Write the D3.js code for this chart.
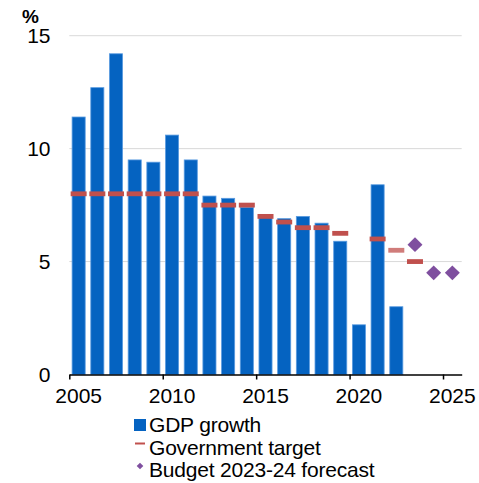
<!DOCTYPE html>
<html>
<head>
<meta charset="utf-8">
<script src="https://cdn.jsdelivr.net/npm/d3@7"></script>
<style>
  html, body { margin: 0; padding: 0; background: #fff; }
  svg { display: block; font-family: "Liberation Sans", Arial, sans-serif; }
</style>
</head>
<body>
<svg id="chart" width="479" height="483"></svg>
<script>
// China real GDP growth, official growth targets and budget forecasts (%)
const years = d3.range(2005, 2026);
const gdpYears = [2005, 2006, 2007, 2008, 2009, 2010, 2011, 2012, 2013, 2014, 2015, 2016, 2017, 2018, 2019, 2020, 2021, 2022];
const gdpGrowth = [11.4, 12.7, 14.2, 9.5, 9.4, 10.6, 9.5, 7.9, 7.8, 7.4, 7.0, 6.9, 7.0, 6.7, 5.9, 2.2, 8.4, 3.0];
const targetYears = [2005, 2006, 2007, 2008, 2009, 2010, 2011, 2012, 2013, 2014, 2015, 2016, 2017, 2018, 2019, 2021, 2022, 2023];
const targetValues = [8, 8, 8, 8, 8, 8, 8, 7.5, 7.5, 7.5, 7.0, 6.75, 6.5, 6.5, 6.25, 6.0, 5.5, 5.0];
const forecastYears = [2023, 2024, 2025];
const forecastValues = [5.75, 4.5, 4.5];
const yTicks = [0, 5, 10, 15];
const xTickYears = [2005, 2010, 2015, 2020, 2025];
const legendLabels = ["GDP growth", "Government target", "Budget 2023-24 forecast"];

const colors = { bar: "#0563C1", barEdge: "#5a9be0", target: "#C0504D", forecast: "#7F4F9F", grid: "#d9d9d9" };

const svg = d3.select("#chart");
const plot = { left: 69.3, right: 461.7, top: 35.7, bottom: 374.5 };

const x = d3.scaleBand().domain(years).range([plot.left, plot.right]).paddingInner(0.3).paddingOuter(0.15);
const xEdge = d3.scaleLinear().domain([2005, 2026]).range([plot.left, plot.right]);
const y = d3.scaleLinear().domain([0, 15]).range([plot.bottom, plot.top]);
const center = yr => x(yr) + x.bandwidth() / 2;

// horizontal gridlines
svg.append("g")
  .selectAll("line")
  .data(yTicks.filter(t => t > 0))
  .join("line")
  .attr("x1", plot.left).attr("x2", plot.right)
  .attr("y1", d => y(d)).attr("y2", d => y(d))
  .attr("stroke", colors.grid).attr("stroke-width", 1);

// y axis labels
svg.append("g")
  .selectAll("text")
  .data(yTicks)
  .join("text")
  .attr("x", 50.5).attr("y", d => y(d))
  .attr("dy", "0.36em")
  .attr("text-anchor", "end")
  .attr("font-size", 21)
  .attr("fill", "#000")
  .text(d => d);

svg.append("text")
  .attr("x", 22).attr("y", 23)
  .attr("font-size", 19).attr("font-weight", "bold")
  .text("%");

// GDP growth bars
svg.append("g")
  .selectAll("rect")
  .data(gdpYears.map((yr, i) => ({ yr, v: gdpGrowth[i] })))
  .join("rect")
  .attr("x", d => x(d.yr))
  .attr("width", x.bandwidth())
  .attr("y", d => y(d.v))
  .attr("height", d => y(0) - y(d.v))
  .attr("fill", colors.bar)
  .attr("stroke", colors.barEdge)
  .attr("stroke-width", 0.8);

// x axis line with ticks on the year boundaries
const xAxis = d3.axisBottom(xEdge)
  .tickValues(xTickYears)
  .tickSize(5)
  .tickSizeOuter(0)
  .tickFormat("");
const gx = svg.append("g")
  .attr("transform", `translate(0,${plot.bottom})`)
  .call(xAxis);
gx.select(".domain").attr("stroke", "#000").attr("stroke-width", 1.5);
gx.selectAll(".tick line").attr("stroke", "#000").attr("stroke-width", 1.5);

// year labels centred on the categories
const xLabels = d3.axisBottom(x).tickValues(xTickYears).tickSize(0).tickPadding(0);
const gl = svg.append("g")
  .attr("transform", `translate(0,${plot.bottom + 14})`)
  .call(xLabels);
gl.select(".domain").remove();
gl.selectAll("text")
  .attr("font-size", 21)
  .attr("font-family", "'Liberation Sans', Arial, sans-serif")
  .attr("fill", "#000");

// government target dashes
const dashW = 16, dashH = 4.8;
svg.append("g")
  .selectAll("rect")
  .data(targetYears.map((yr, i) => ({ yr, v: targetValues[i] })))
  .join("rect")
  .attr("x", d => center(d.yr) - dashW / 2)
  .attr("y", d => y(d.v) - dashH / 2)
  .attr("width", dashW)
  .attr("height", dashH)
  .attr("fill", colors.target)
  .attr("opacity", d => d.yr === 2022 ? 0.75 : 1);

// budget forecast diamonds
const diamond = d3.symbol().type(d3.symbolSquare).size(112);
svg.append("g")
  .selectAll("path")
  .data(forecastYears.map((yr, i) => ({ yr, v: forecastValues[i] })))
  .join("path")
  .attr("d", diamond)
  .attr("transform", d => `translate(${center(d.yr)},${y(d.v)}) rotate(45)`)
  .attr("fill", colors.forecast);

// legend
const legend = svg.append("g").attr("transform", "translate(134,0)");
const rowY = [425, 447.5, 470];
legend.append("rect")
  .attr("x", 0).attr("y", rowY[0] - 6)
  .attr("width", 12).attr("height", 12)
  .attr("fill", colors.bar);
legend.append("line")
  .attr("x1", 1).attr("x2", 11)
  .attr("y1", rowY[1] - 4).attr("y2", rowY[1] - 4)
  .attr("stroke", colors.target).attr("stroke-width", 2);
legend.append("path")
  .attr("d", d3.symbol().type(d3.symbolSquare).size(22)())
  .attr("transform", `translate(6,${rowY[2] - 4}) rotate(45)`)
  .attr("fill", colors.forecast);
legend.selectAll("text.lbl")
  .data(legendLabels)
  .join("text")
  .attr("class", "lbl")
  .attr("x", 15)
  .attr("y", (d, i) => rowY[i] + 7)
  .attr("font-size", 21)
  .attr("letter-spacing", "-0.2")
  .attr("fill", "#000")
  .text(d => d);
</script>
</body>
</html>
